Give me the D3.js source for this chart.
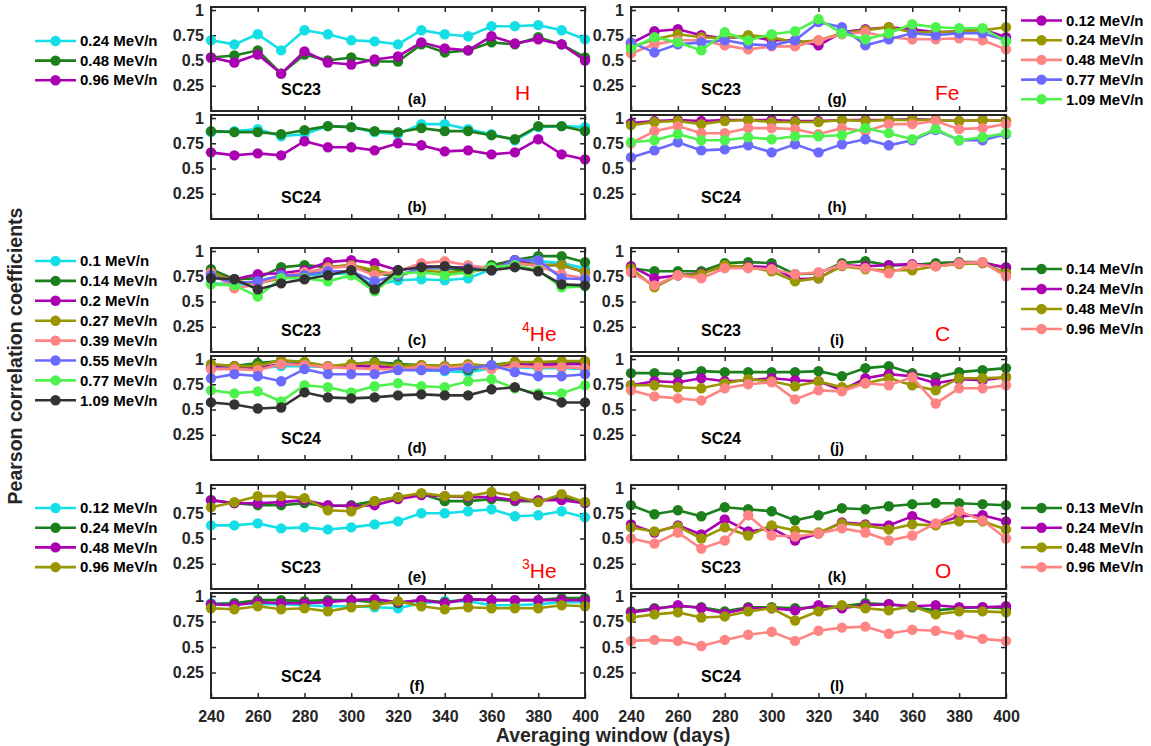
<!DOCTYPE html>
<html>
<head>
<meta charset="utf-8">
<script src="https://cdn.jsdelivr.net/npm/d3@7"></script>
<style>
  body { margin: 0; background: #fff; }
  svg { display: block; font-family: "Liberation Sans", Arial, Helvetica, sans-serif; }
</style>
</head>
<body>
<svg id="chart" width="1151" height="746"></svg>
<script>
// ---------------- data ----------------
const windows = [240, 250, 260, 270, 280, 290, 300, 310, 320, 330, 340, 350, 360, 370, 380, 390, 400];
const xTicks = [240, 260, 280, 300, 320, 340, 360, 380, 400];
const yTicks = [0.25, 0.5, 0.75, 1];

const hEnergies = ["0.24 MeV/n", "0.48 MeV/n", "0.96 MeV/n"];
const he4Energies = ["0.1 MeV/n", "0.14 MeV/n", "0.2 MeV/n", "0.27 MeV/n", "0.39 MeV/n", "0.55 MeV/n", "0.77 MeV/n", "1.09 MeV/n"];
const he3Energies = ["0.12 MeV/n", "0.24 MeV/n", "0.48 MeV/n", "0.96 MeV/n"];
const feEnergies = ["0.12 MeV/n", "0.24 MeV/n", "0.48 MeV/n", "0.77 MeV/n", "1.09 MeV/n"];
const cEnergies = ["0.14 MeV/n", "0.24 MeV/n", "0.48 MeV/n", "0.96 MeV/n"];
const oEnergies = ["0.13 MeV/n", "0.24 MeV/n", "0.48 MeV/n", "0.96 MeV/n"];

const CYAN = "#14dfe6", GREEN = "#1b7f1b", MAGENTA = "#aa00b2", OLIVE = "#9a9600",
      SALMON = "#ff8585", BLUE = "#6a6aff", LGREEN = "#4df24d", DARK = "#333333";
const hColors = [CYAN, GREEN, MAGENTA];
const he4Colors = [CYAN, GREEN, MAGENTA, OLIVE, SALMON, BLUE, LGREEN, DARK];
const he3Colors = [CYAN, GREEN, MAGENTA, OLIVE];
const feColors = [MAGENTA, OLIVE, SALMON, BLUE, LGREEN];
const cColors = [GREEN, MAGENTA, OLIVE, SALMON];
const oColors = [GREEN, MAGENTA, OLIVE, SALMON];

// (a) H, SC23
const panelA = [
  [0.70, 0.66, 0.76, 0.60, 0.80, 0.76, 0.70, 0.69, 0.66, 0.80, 0.76, 0.74, 0.84, 0.84, 0.85, 0.80, 0.71],
  [0.53, 0.55, 0.60, 0.37, 0.56, 0.50, 0.53, 0.49, 0.49, 0.66, 0.58, 0.60, 0.68, 0.66, 0.73, 0.66, 0.53],
  [0.53, 0.48, 0.56, 0.37, 0.59, 0.48, 0.46, 0.51, 0.54, 0.68, 0.62, 0.60, 0.74, 0.67, 0.71, 0.66, 0.50]
];
// (b) H, SC24
const panelB = [
  [0.86, 0.87, 0.89, 0.82, 0.84, 0.92, 0.91, 0.86, 0.84, 0.94, 0.94, 0.89, 0.84, 0.78, 0.91, 0.92, 0.91],
  [0.87, 0.86, 0.86, 0.84, 0.88, 0.92, 0.91, 0.87, 0.86, 0.90, 0.87, 0.87, 0.83, 0.79, 0.92, 0.92, 0.87],
  [0.66, 0.63, 0.65, 0.63, 0.77, 0.71, 0.71, 0.68, 0.75, 0.73, 0.67, 0.68, 0.64, 0.66, 0.79, 0.64, 0.59]
];
// (c) 4He, SC23
const panelC = [
  [0.68, 0.67, 0.67, 0.76, 0.76, 0.77, 0.78, 0.66, 0.71, 0.72, 0.71, 0.73, 0.82, 0.89, 0.90, 0.88, 0.83],
  [0.82, 0.72, 0.73, 0.84, 0.86, 0.84, 0.86, 0.78, 0.75, 0.83, 0.83, 0.80, 0.86, 0.91, 0.95, 0.95, 0.89],
  [0.77, 0.72, 0.77, 0.78, 0.81, 0.89, 0.91, 0.88, 0.81, 0.85, 0.84, 0.84, 0.82, 0.91, 0.86, 0.86, 0.79],
  [0.79, 0.70, 0.68, 0.73, 0.77, 0.84, 0.86, 0.81, 0.76, 0.81, 0.79, 0.79, 0.83, 0.88, 0.86, 0.86, 0.79],
  [0.78, 0.63, 0.67, 0.75, 0.79, 0.83, 0.85, 0.76, 0.80, 0.88, 0.90, 0.86, 0.83, 0.88, 0.85, 0.77, 0.73],
  [0.76, 0.68, 0.70, 0.76, 0.76, 0.80, 0.80, 0.70, 0.76, 0.83, 0.84, 0.83, 0.81, 0.91, 0.91, 0.73, 0.72],
  [0.67, 0.66, 0.55, 0.73, 0.73, 0.70, 0.76, 0.60, 0.78, 0.79, 0.76, 0.79, 0.84, 0.86, 0.81, 0.64, 0.65],
  [0.73, 0.72, 0.62, 0.68, 0.72, 0.76, 0.81, 0.62, 0.81, 0.84, 0.85, 0.82, 0.81, 0.84, 0.80, 0.67, 0.66]
];
// (d) 4He, SC24
const panelD = [
  [0.92, 0.92, 0.91, 0.93, 0.93, 0.92, 0.92, 0.91, 0.90, 0.89, 0.88, 0.87, 0.91, 0.92, 0.91, 0.91, 0.90],
  [0.94, 0.93, 0.96, 0.98, 0.97, 0.92, 0.95, 0.97, 0.95, 0.94, 0.93, 0.89, 0.94, 0.97, 0.96, 0.97, 0.97],
  [0.93, 0.93, 0.91, 0.95, 0.95, 0.93, 0.93, 0.93, 0.91, 0.91, 0.92, 0.93, 0.93, 0.95, 0.94, 0.95, 0.95],
  [0.95, 0.93, 0.93, 0.99, 0.97, 0.93, 0.95, 0.96, 0.93, 0.94, 0.93, 0.95, 0.93, 0.97, 0.97, 0.98, 0.98],
  [0.90, 0.90, 0.89, 0.95, 0.94, 0.92, 0.91, 0.90, 0.90, 0.92, 0.91, 0.93, 0.90, 0.93, 0.92, 0.92, 0.91],
  [0.81, 0.85, 0.83, 0.78, 0.90, 0.85, 0.85, 0.85, 0.89, 0.89, 0.89, 0.91, 0.94, 0.87, 0.83, 0.83, 0.85],
  [0.69, 0.66, 0.68, 0.58, 0.74, 0.72, 0.67, 0.73, 0.76, 0.73, 0.72, 0.78, 0.80, 0.71, 0.66, 0.66, 0.74],
  [0.57, 0.55, 0.51, 0.52, 0.67, 0.62, 0.61, 0.62, 0.64, 0.65, 0.64, 0.64, 0.70, 0.72, 0.64, 0.57, 0.57]
];
// (e) 3He, SC23
const panelE = [
  [0.63, 0.63, 0.65, 0.60, 0.61, 0.59, 0.61, 0.64, 0.67, 0.75, 0.75, 0.77, 0.79, 0.72, 0.73, 0.77, 0.71],
  [0.88, 0.85, 0.83, 0.83, 0.85, 0.82, 0.83, 0.87, 0.91, 0.94, 0.87, 0.87, 0.89, 0.87, 0.87, 0.91, 0.86],
  [0.88, 0.85, 0.85, 0.86, 0.88, 0.83, 0.82, 0.83, 0.89, 0.93, 0.92, 0.91, 0.91, 0.88, 0.88, 0.88, 0.85],
  [0.81, 0.86, 0.92, 0.92, 0.90, 0.78, 0.77, 0.87, 0.91, 0.95, 0.92, 0.92, 0.96, 0.92, 0.86, 0.94, 0.86]
];
// (f) 3He, SC24
const panelF = [
  [0.93, 0.93, 0.92, 0.92, 0.91, 0.90, 0.90, 0.89, 0.88, 0.93, 0.95, 0.95, 0.91, 0.91, 0.92, 0.94, 0.94],
  [0.92, 0.93, 0.96, 0.96, 0.95, 0.96, 0.96, 0.94, 0.93, 0.96, 0.94, 0.97, 0.96, 0.96, 0.96, 0.98, 0.98],
  [0.92, 0.91, 0.94, 0.93, 0.93, 0.94, 0.96, 0.97, 0.94, 0.96, 0.93, 0.97, 0.96, 0.96, 0.96, 0.96, 0.96],
  [0.88, 0.87, 0.90, 0.87, 0.88, 0.85, 0.89, 0.91, 0.95, 0.90, 0.87, 0.89, 0.88, 0.88, 0.88, 0.91, 0.90]
];
// (g) Fe, SC23
const panelG = [
  [0.67, 0.79, 0.81, 0.75, 0.72, 0.74, 0.70, 0.70, 0.65, 0.78, 0.81, 0.83, 0.81, 0.78, 0.79, 0.81, 0.73],
  [0.63, 0.71, 0.76, 0.73, 0.72, 0.75, 0.73, 0.68, 0.70, 0.77, 0.80, 0.83, 0.78, 0.78, 0.79, 0.80, 0.83],
  [0.57, 0.66, 0.70, 0.70, 0.65, 0.61, 0.64, 0.64, 0.70, 0.76, 0.78, 0.73, 0.71, 0.71, 0.72, 0.70, 0.61],
  [0.68, 0.58, 0.66, 0.68, 0.70, 0.66, 0.65, 0.70, 0.88, 0.83, 0.65, 0.71, 0.77, 0.75, 0.77, 0.77, 0.70],
  [0.62, 0.73, 0.68, 0.60, 0.78, 0.70, 0.76, 0.79, 0.91, 0.77, 0.71, 0.77, 0.86, 0.83, 0.82, 0.82, 0.69]
];
// (h) Fe, SC24
const panelH = [
  [0.95, 0.97, 0.98, 0.97, 0.98, 0.98, 0.98, 0.97, 0.97, 0.98, 0.98, 0.98, 0.99, 0.98, 0.97, 0.98, 0.97],
  [0.93, 0.96, 0.97, 0.94, 0.97, 0.98, 0.96, 0.96, 0.96, 0.98, 0.97, 0.98, 0.98, 0.98, 0.97, 0.98, 0.97],
  [0.75, 0.87, 0.92, 0.85, 0.85, 0.90, 0.90, 0.89, 0.84, 0.90, 0.87, 0.94, 0.94, 0.97, 0.89, 0.90, 0.94],
  [0.61, 0.68, 0.76, 0.68, 0.69, 0.73, 0.66, 0.74, 0.66, 0.74, 0.79, 0.73, 0.78, 0.88, 0.78, 0.78, 0.84],
  [0.76, 0.78, 0.84, 0.78, 0.78, 0.81, 0.79, 0.82, 0.82, 0.83, 0.90, 0.85, 0.79, 0.89, 0.78, 0.81, 0.85]
];
// (i) C, SC23
const panelI = [
  [0.83, 0.80, 0.80, 0.80, 0.88, 0.89, 0.88, 0.77, 0.78, 0.88, 0.90, 0.86, 0.86, 0.88, 0.89, 0.89, 0.83],
  [0.85, 0.73, 0.76, 0.78, 0.85, 0.85, 0.84, 0.72, 0.73, 0.86, 0.85, 0.86, 0.87, 0.85, 0.88, 0.88, 0.84],
  [0.83, 0.64, 0.76, 0.77, 0.86, 0.84, 0.80, 0.70, 0.73, 0.85, 0.82, 0.81, 0.81, 0.85, 0.87, 0.88, 0.78],
  [0.79, 0.66, 0.76, 0.73, 0.83, 0.83, 0.82, 0.77, 0.79, 0.86, 0.83, 0.78, 0.86, 0.85, 0.88, 0.89, 0.75]
];
// (j) C, SC24
const panelJ = [
  [0.86, 0.86, 0.85, 0.88, 0.87, 0.87, 0.87, 0.87, 0.88, 0.83, 0.91, 0.93, 0.86, 0.82, 0.87, 0.89, 0.91],
  [0.74, 0.78, 0.77, 0.81, 0.78, 0.79, 0.81, 0.79, 0.78, 0.69, 0.81, 0.85, 0.83, 0.76, 0.80, 0.79, 0.82],
  [0.74, 0.74, 0.72, 0.71, 0.76, 0.80, 0.78, 0.73, 0.78, 0.72, 0.76, 0.81, 0.74, 0.69, 0.81, 0.81, 0.82],
  [0.69, 0.63, 0.61, 0.59, 0.71, 0.75, 0.77, 0.60, 0.69, 0.68, 0.76, 0.74, 0.82, 0.56, 0.71, 0.71, 0.74]
];
// (k) O, SC23
const panelK = [
  [0.83, 0.74, 0.78, 0.72, 0.81, 0.79, 0.77, 0.68, 0.73, 0.80, 0.79, 0.82, 0.84, 0.85, 0.85, 0.84, 0.83],
  [0.64, 0.56, 0.63, 0.54, 0.69, 0.57, 0.60, 0.48, 0.55, 0.66, 0.64, 0.63, 0.72, 0.64, 0.72, 0.73, 0.67],
  [0.61, 0.57, 0.62, 0.50, 0.61, 0.53, 0.63, 0.58, 0.56, 0.65, 0.63, 0.59, 0.64, 0.63, 0.67, 0.67, 0.59],
  [0.50, 0.45, 0.56, 0.40, 0.48, 0.73, 0.53, 0.52, 0.55, 0.60, 0.56, 0.48, 0.53, 0.65, 0.77, 0.68, 0.50]
];
// (l) O, SC24
const panelL = [
  [0.85, 0.88, 0.90, 0.89, 0.85, 0.89, 0.89, 0.88, 0.89, 0.90, 0.93, 0.92, 0.89, 0.86, 0.88, 0.89, 0.88],
  [0.84, 0.87, 0.91, 0.88, 0.83, 0.88, 0.88, 0.86, 0.91, 0.88, 0.91, 0.92, 0.90, 0.91, 0.89, 0.89, 0.90],
  [0.79, 0.82, 0.84, 0.79, 0.80, 0.85, 0.88, 0.76, 0.85, 0.91, 0.88, 0.86, 0.90, 0.82, 0.85, 0.85, 0.84],
  [0.56, 0.57, 0.56, 0.51, 0.57, 0.62, 0.65, 0.56, 0.66, 0.69, 0.70, 0.63, 0.67, 0.66, 0.62, 0.58, 0.56]
];

// ---------------- layout ----------------
const svg = d3.select("#chart");
const AXIS = "#262626";
const FF = '"Liberation Sans", Arial, Helvetica, sans-serif';
const colX = [[211, 585], [631, 1006]];
const rowY = [[7, 111], [115, 219], [248, 352], [356, 460], [485, 589], [593, 698]];

const panels = [
  { data: panelA, colors: hColors, col: 0, row: 0, cycle: "SC23", letter: "(a)" },
  { data: panelB, colors: hColors, col: 0, row: 1, cycle: "SC24", letter: "(b)" },
  { data: panelC, colors: he4Colors, col: 0, row: 2, cycle: "SC23", letter: "(c)" },
  { data: panelD, colors: he4Colors, col: 0, row: 3, cycle: "SC24", letter: "(d)" },
  { data: panelE, colors: he3Colors, col: 0, row: 4, cycle: "SC23", letter: "(e)" },
  { data: panelF, colors: he3Colors, col: 0, row: 5, cycle: "SC24", letter: "(f)", xLabels: true },
  { data: panelG, colors: feColors, col: 1, row: 0, cycle: "SC23", letter: "(g)" },
  { data: panelH, colors: feColors, col: 1, row: 1, cycle: "SC24", letter: "(h)" },
  { data: panelI, colors: cColors, col: 1, row: 2, cycle: "SC23", letter: "(i)" },
  { data: panelJ, colors: cColors, col: 1, row: 3, cycle: "SC24", letter: "(j)" },
  { data: panelK, colors: oColors, col: 1, row: 4, cycle: "SC23", letter: "(k)" },
  { data: panelL, colors: oColors, col: 1, row: 5, cycle: "SC24", letter: "(l)", xLabels: true }
];

const fmt = d3.format("~g");

panels.forEach(p => {
  const [x0, x1] = colX[p.col];
  const [y0, y1] = rowY[p.row];
  const x = d3.scaleLinear().domain([240, 400]).range([x0, x1]);
  const y = d3.scaleLinear().domain([0, 1.03]).range([y1, y0]);
  const g = svg.append("g");

  // axes (ticks inward)
  const left = g.append("g").attr("transform", `translate(${x0},0)`)
    .call(d3.axisLeft(y).tickValues(yTicks).tickSize(-5).tickPadding(7).tickFormat(fmt));
  const right = g.append("g").attr("transform", `translate(${x1},0)`)
    .call(d3.axisRight(y).tickValues(yTicks).tickSize(-5).tickFormat(""));
  const top = g.append("g").attr("transform", `translate(0,${y0})`)
    .call(d3.axisTop(x).tickValues(xTicks).tickSize(-5).tickFormat(""));
  const bottom = g.append("g").attr("transform", `translate(0,${y1})`)
    .call(d3.axisBottom(x).tickValues(xTicks).tickSize(-5).tickPadding(13)
      .tickFormat(p.xLabels ? fmt : ""));
  [left, right, top, bottom].forEach(a => {
    a.select(".domain").remove();
    a.selectAll(".tick line").attr("stroke", AXIS).attr("stroke-width", 1.5);
    a.selectAll(".tick text").attr("fill", AXIS).attr("font-weight", "bold")
      .attr("font-family", FF);
  });
  left.selectAll(".tick text").attr("font-size", 16);
  bottom.selectAll(".tick text").attr("font-size", 16);

  // series
  const line = d3.line().x((d, i) => x(windows[i])).y(d => y(d));
  p.data.forEach((vals, si) => {
    const c = p.colors[si];
    g.append("path").datum(vals).attr("d", line)
      .attr("fill", "none").attr("stroke", c).attr("stroke-width", 2.6);
    g.selectAll(null).data(vals).enter().append("circle")
      .attr("cx", (d, i) => x(windows[i])).attr("cy", d => y(d))
      .attr("r", 5.2).attr("fill", c);
  });

  // box
  g.append("rect").attr("x", x0).attr("y", y0).attr("width", x1 - x0).attr("height", y1 - y0)
    .attr("fill", "none").attr("stroke", AXIS).attr("stroke-width", 2);

  // labels
  g.append("text").attr("x", x0 + 90).attr("y", y1 - 22).attr("dy", "0.35em")
    .attr("text-anchor", "middle").attr("font-weight", "bold").attr("font-size", 16)
    .attr("fill", "#000").text(p.cycle);
  g.append("text").attr("x", x0 + 206).attr("y", y1 - 12).attr("dy", "0.35em")
    .attr("text-anchor", "middle").attr("font-weight", "bold").attr("font-size", 15)
    .attr("fill", "#000").text(p.letter);
});

// element labels
const elemLabels = [
  { col: 0, row: 0, main: "H", sup: "" },
  { col: 0, row: 2, main: "He", sup: "4" },
  { col: 0, row: 4, main: "He", sup: "3" },
  { col: 1, row: 0, main: "Fe", sup: "" },
  { col: 1, row: 2, main: "C", sup: "" },
  { col: 1, row: 4, main: "O", sup: "" }
];
elemLabels.forEach(e => {
  const xs = colX[e.col][0] + (e.sup ? 311 : 304);
  const yb = rowY[e.row][1] - 11;
  const t = svg.append("text").attr("x", xs).attr("y", yb)
    .attr("font-size", 21).attr("fill", "#ff0000");
  if (e.sup) {
    t.append("tspan").attr("font-size", 14).attr("dy", -9).text(e.sup);
    t.append("tspan").attr("dy", 9).text(e.main);
  } else {
    t.text(e.main);
  }
});

// legends
const legends = [
  { labels: hEnergies, colors: hColors, lx: 35, y: 41, step: 19.6 },
  { labels: he4Energies, colors: he4Colors, lx: 35, y: 261, step: 19.9 },
  { labels: he3Energies, colors: he3Colors, lx: 35, y: 508, step: 19.7 },
  { labels: feEnergies, colors: feColors, lx: 1021, y: 20.5, step: 19.7 },
  { labels: cEnergies, colors: cColors, lx: 1021, y: 269, step: 20 },
  { labels: oEnergies, colors: oColors, lx: 1021, y: 508, step: 19.7 }
];
legends.forEach(L => {
  L.labels.forEach((lab, i) => {
    const yy = L.y + i * L.step;
    const c = L.colors[i];
    svg.append("line").attr("x1", L.lx).attr("x2", L.lx + 41).attr("y1", yy).attr("y2", yy)
      .attr("stroke", c).attr("stroke-width", 2.6);
    svg.append("circle").attr("cx", L.lx + 20.5).attr("cy", yy).attr("r", 5.2).attr("fill", c);
    svg.append("text").attr("x", L.lx + 45).attr("y", yy).attr("dy", "0.35em")
      .attr("font-weight", "bold").attr("font-size", 15).attr("fill", "#000").text(lab);
  });
});

// axis titles
svg.append("text")
  .attr("transform", "translate(22,356) rotate(-90)")
  .attr("text-anchor", "middle").attr("font-weight", "bold").attr("font-size", 19.5)
  .attr("fill", AXIS).text("Pearson correlation coefficients");
svg.append("text").attr("x", 613).attr("y", 742)
  .attr("text-anchor", "middle").attr("font-weight", "bold").attr("font-size", 19.5)
  .attr("fill", AXIS).text("Averaging window (days)");
</script>
</body>
</html>
